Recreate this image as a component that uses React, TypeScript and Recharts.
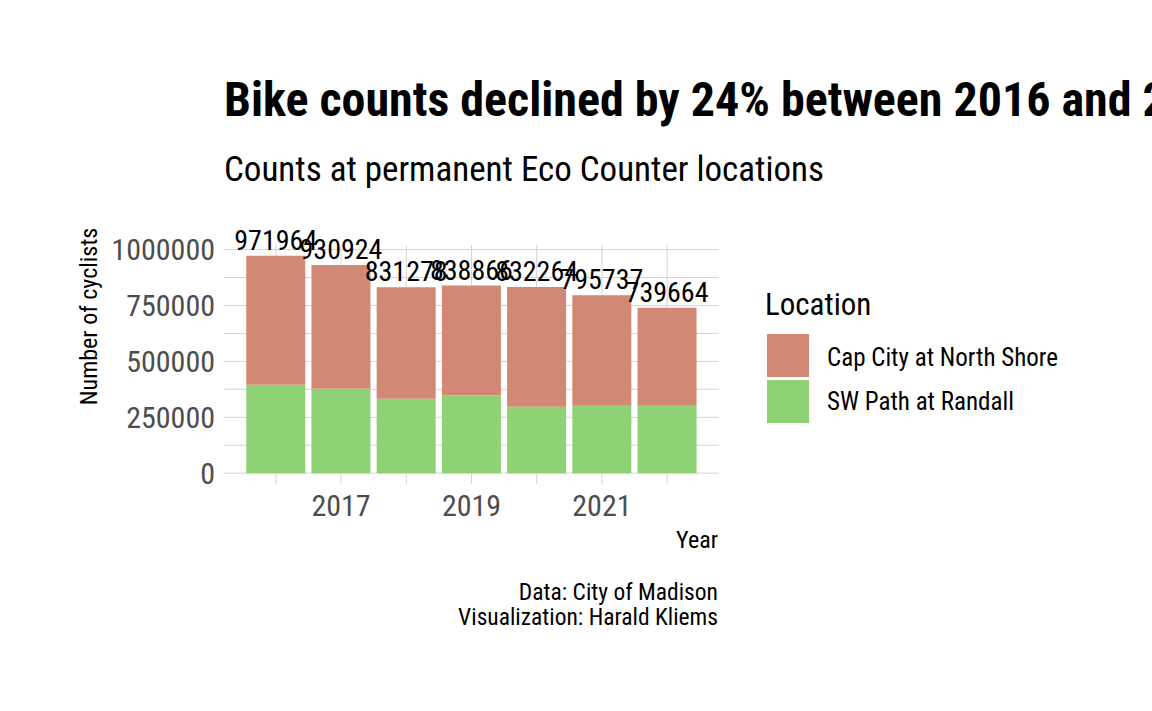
import React from "react";
import {
  BarChart,
  Bar,
  XAxis,
  YAxis,
  CartesianGrid,
  Legend,
  LabelList,
} from "recharts";

const years = [2016, 2017, 2018, 2019, 2020, 2021, 2022];
const swPath = [395000, 377000, 333000, 348000, 297000, 301000, 301000];
const capCity = [576964, 553924, 498278, 490866, 535264, 494737, 438664];
const totals = [971964, 930924, 831278, 838866, 832264, 795737, 739664];

const yTicks = [0, 250000, 500000, 750000, 1000000];
const yGrid = [0, 125000, 250000, 375000, 500000, 625000, 750000, 875000, 1000000];
const xTicks = [2017, 2019, 2021];

const FONT = "'Roboto Condensed', Roboto, sans-serif";
const RED = "#D18975";
const GREEN = "#8FD175";

const data = years.map((year, i) => ({
  year,
  sw: swPath[i],
  cap: capCity[i],
  total: totals[i],
}));

const LegendBox = ({ payload }: any) => {
  const items = [...(payload || [])].sort((a: any, b: any) =>
    String(a.value).localeCompare(String(b.value))
  );
  return (
    <svg width={330} height={150} style={{ fontFamily: FONT, overflow: "visible" }}>
      <text x={0} y={35} fontSize={31} fill="#000">
        Location
      </text>
      {items.map((it: any, i: number) => (
        <g key={it.value}>
          <rect x={2} y={54 + i * 46} width={42} height={43} fill={it.color} />
          <text x={62} y={86 + i * 44} fontSize={25} fill="#000">
            {it.value}
          </text>
        </g>
      ))}
    </svg>
  );
};

export default function App() {
  return (
    <div style={{ position: "absolute", left: 0, top: 0, width: 1152, height: 711, background: "#fff", overflow: "hidden" }}>
      <BarChart
        width={1152}
        height={711}
        data={data}
        margin={{ top: 245, right: 433, bottom: 167, left: 124 }}
        style={{ fontFamily: FONT }}
      >
        <CartesianGrid
          stroke="#D4D4D4"
          strokeWidth={1}
          horizontalValues={yGrid}
          verticalValues={years}
        />
        <XAxis
          dataKey="year"
          type="number"
          domain={[2015.205, 2022.795]}
          allowDataOverflow
          ticks={xTicks}
          axisLine={false}
          tickLine={false}
          tickSize={0}
          tickMargin={11}
          height={60}
          tick={{ fontSize: 30, fill: "#4D4D4D", fontFamily: FONT }}
        />
        <YAxis
          type="number"
          domain={[-48598, 1020562]}
          allowDataOverflow
          ticks={yTicks}
          axisLine={false}
          tickLine={false}
          tickSize={0}
          tickMargin={9}
          width={100}
          tick={{ fontSize: 30, fill: "#4D4D4D", fontFamily: FONT }}
        />
        <Legend
          layout="vertical"
          align="center"
          verticalAlign="middle"
          content={<LegendBox />}
          wrapperStyle={{ left: 765, top: 280, width: 330, height: 150 }}
        />
        <Bar dataKey="sw" name="SW Path at Randall" stackId="a" fill={GREEN} barSize={59} isAnimationActive={false} />
        <Bar dataKey="cap" name="Cap City at North Shore" stackId="a" fill={RED} barSize={59} isAnimationActive={false}>
          <LabelList
            dataKey="total"
            position="top"
            offset={6}
            style={{ fontSize: 28, fill: "#000", fontFamily: FONT }}
          />
        </Bar>
      </BarChart>
      <svg
        width={1152}
        height={711}
        style={{ position: "absolute", left: 0, top: 0, pointerEvents: "none", fontFamily: FONT }}
      >
        <text x={224} y={116} fontSize={48} fontWeight={700} fill="#000">
          Bike counts declined by 24% between 2016 and 2022
        </text>
        <text x={224} y={180.5} fontSize={35} fill="#000">
          Counts at permanent Eco Counter locations
        </text>
        <text
          x={97}
          y={316.5}
          fontSize={24}
          fill="#000"
          textAnchor="middle"
          transform="rotate(-90 97 316.5)"
        >
          Number of cyclists
        </text>
        <text x={718} y={548} fontSize={24} fill="#000" textAnchor="end">
          Year
        </text>
        <text x={718} y={600} fontSize={23.5} fill="#000" textAnchor="end">
          Data: City of Madison
        </text>
        <text x={718} y={625} fontSize={23.5} fill="#000" textAnchor="end">
          Visualization: Harald Kliems
        </text>
      </svg>
    </div>
  );
}
